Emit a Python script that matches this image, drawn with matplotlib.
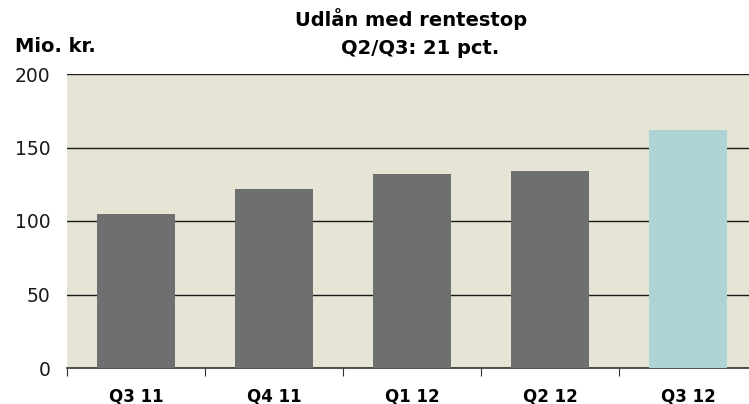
import matplotlib.pyplot as plt

# 数値は画像から読み取った推定値
kvartaler = ['Q3 11', 'Q4 11', 'Q1 12', 'Q2 12', 'Q3 12']
udlaan = [105, 122, 132, 134, 162]
farver = ['#6e706f', '#6e706f', '#6e706f', '#6e706f', '#aed3d3']

plt.rcParams['font.family'] = ['DejaVu Sans']

fig = plt.figure(figsize=(7.49, 4.04), dpi=100)
ax = fig.add_axes([67 / 749, 36 / 404, 690 / 749, 294 / 404])

x = list(range(len(kvartaler)))
ax.bar(x, udlaan, width=0.56, color=farver, zorder=3)

ax.set_facecolor('#e6e4d4')
ax.set_xlim(-0.5, len(kvartaler) - 0.5)
ax.set_ylim(0, 200)
ax.set_yticks([0, 50, 100, 150, 200])
for v in [50, 100, 150, 200]:
    ax.axhline(v, color='#1a1a1a', lw=1.0, zorder=2)

# 区切りの目盛りとラベル位置を分ける
ax.set_xticks([i - 0.5 for i in range(len(kvartaler) + 1)])
ax.set_xticklabels([])
ax.set_xticks(x, minor=True)
ax.set_xticklabels(kvartaler, minor=True, fontweight='bold', fontsize=12)
ax.tick_params(axis='x', which='major', direction='out', length=6, color='#333333')
ax.tick_params(axis='x', which='minor', length=0, pad=14)
ax.tick_params(axis='y', length=0, labelsize=13.5, pad=12, colors='#1a1a1a')

for s in ['top', 'right', 'left']:
    ax.spines[s].set_visible(False)
ax.spines['bottom'].set_color('#333333')
ax.spines['bottom'].set_linewidth(1.2)

fig.text(411 / 749, 1 - 19 / 404, 'Udlån med rentestop', ha='center', va='center',
         fontweight='bold', fontsize=14)
fig.text(420 / 749, 1 - 49 / 404, 'Q2/Q3: 21 pct.', ha='center', va='center',
         fontweight='bold', fontsize=14)
fig.text(15 / 749, 1 - 46 / 404, 'Mio. kr.', ha='left', va='center',
         fontweight='bold', fontsize=14)

fig.savefig('out.png', dpi=100)
